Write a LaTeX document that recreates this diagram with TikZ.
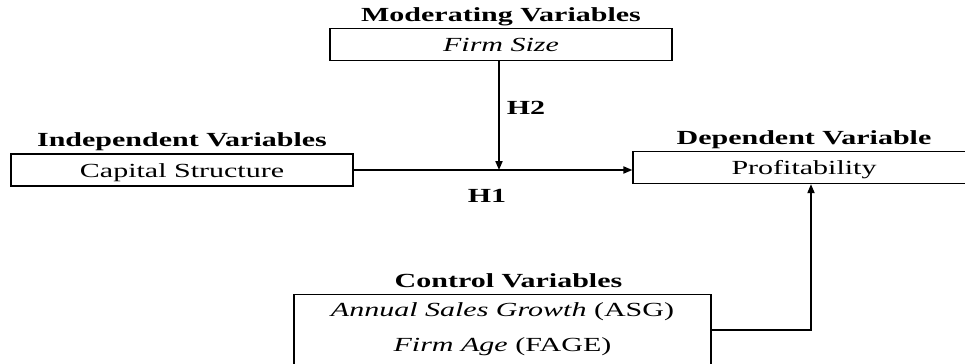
\documentclass[tikz,border=0pt]{standalone}
\usepackage{fontspec}
\setmainfont[FakeStretch=1.5]{Liberation Serif}
\usetikzlibrary{positioning,arrows.meta}

\begin{document}
\begin{tikzpicture}[x=0.5pt, y=-0.5pt,
    box/.style={draw, line width=0.7pt, minimum width=171pt, minimum height=16pt,
        inner sep=0pt, text height=7pt, text depth=0pt},
    ctrlbox/.style={draw, line width=0.7pt, minimum width=208.5pt, align=center,
        inner xsep=0pt, inner ysep=4pt, text depth=10pt},
    boxtitle/.style={font=\bfseries, inner sep=0pt, text height=7pt, text depth=2.5pt},
    arr/.style={line width=0.7pt, -{Triangle[length=4.5pt, width=3.6pt]}}]
    \useasboundingbox (0,0) rectangle (965,364);
    \clip (0,0) rectangle (965,364);

    % Boxes
    \node[box] (mod) at (501,44.5) {\textit{Firm Size}};
    \node[box] (ind) at (182,170) {Capital Structure};
    \node[box] (dep) at (804,167.5) {Profitability};
    \node[ctrlbox, anchor=north] (ctrl) at (502.5,294)
        {\textit{Annual Sales Growth} (ASG)\\[5.5pt]\textit{Firm Age} (FAGE)};

    % Titles
    \node[boxtitle, above=0.5pt of mod] (modt) {Moderating Variables};
    \node[boxtitle, above=0.5pt of ind] (indt) {Independent Variables};
    \node[boxtitle, above=0.5pt of dep] (dept) {Dependent Variable};
    \node[boxtitle, above=0.5pt of ctrl, xshift=3pt] (ctrlt) {Control Variables};

    % Arrows
    \draw[arr] (ind.east) -- (ind.east -| dep.west);
    \draw[arr] ([xshift=-1pt]mod.south) -- ([xshift=-1pt]mod.south |- ind.east);
    \draw[arr] (ctrl.east |- 0,330) -| ([xshift=3.5pt]dep.south);

    % Hypotheses
    \node[font=\bfseries] (h2) at (526,108) {H2};
    \node[font=\bfseries] (h1) at (487,196) {H1};
\end{tikzpicture}
\end{document}
